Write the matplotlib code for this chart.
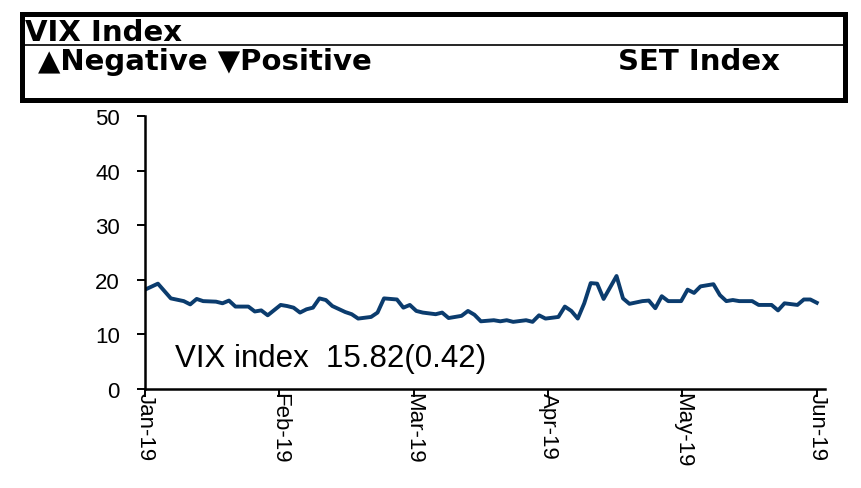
import numpy as np
import matplotlib
matplotlib.use("Agg")
import matplotlib.pyplot as plt
from matplotlib.patches import Rectangle

plt.rcParams['font.family'] = ['Liberation Sans', 'DejaVu Sans']

# trading-day index (0 = start of Jan-19) and VIX close
day_idx = [0, 2, 4, 6, 7, 8, 9, 11, 12, 13, 14, 16, 17, 18, 19,
           21, 22, 23, 24, 25, 26, 27, 28, 29, 31, 32, 33, 35, 36, 37,
           39, 40, 41, 42, 43, 45, 46, 47, 48, 49, 50, 51, 52,
           54, 55, 56, 57, 59, 60, 61, 62, 64, 65, 66, 67, 68, 69, 70,
           71, 73, 74, 75, 77, 78, 79, 80, 81, 83, 84, 85, 86, 88, 89,
           90, 91, 92, 94, 95, 97, 98, 99, 101, 102, 103, 104]
vix = [18.2, 19.3, 16.6, 16.1, 15.5, 16.5, 16.1, 16.0, 15.7, 16.2, 15.1, 15.1, 14.2, 14.4, 13.5,
       15.4, 15.2, 14.9, 14.0, 14.6, 14.9, 16.6, 16.3, 15.2, 14.1, 13.7, 12.9, 13.2, 14.0, 16.6,
       16.4, 14.9, 15.4, 14.3, 14.0, 13.7, 14.0, 13.0, 13.2, 13.4, 14.3, 13.6, 12.4,
       12.6, 12.4, 12.6, 12.3, 12.6, 12.3, 13.5, 12.9, 13.2, 15.1, 14.3, 12.9, 15.7, 19.4, 19.3,
       16.5, 20.7, 16.6, 15.6, 16.1, 16.2, 14.8, 17.0, 16.1, 16.1, 18.2, 17.6, 18.8, 19.2, 17.2,
       16.1, 16.3, 16.1, 16.1, 15.4, 15.4, 14.4, 15.7, 15.4, 16.4, 16.4, 15.8]

month_labels = ['Jan-19', 'Feb-19', 'Mar-19', 'Apr-19', 'May-19', 'Jun-19']
y_ticks = [0, 10, 20, 30, 40, 50]
last_value = 15.82
last_change = 0.42

fig = plt.figure(figsize=(8.61, 4.89), dpi=100)
ax = fig.add_axes([0.1684, 0.2025, 0.790, 0.558])

ax.plot(day_idx, vix, color='#0B3C6E', lw=2.8, solid_joinstyle='round')

ax.set_ylim(0, 50)
ax.set_yticks(y_ticks)
ax.set_xlim(0, 105.3)
ax.set_xticks(np.linspace(0, 104, len(month_labels)))
ax.set_xticklabels(month_labels, rotation=270)

for s in ['top', 'right']:
    ax.spines[s].set_visible(False)
for s in ['left', 'bottom']:
    ax.spines[s].set_linewidth(1.8)
ax.tick_params(axis='both', width=1.4, length=6, direction='out', color='black')
ax.tick_params(axis='y', labelsize=16, pad=12)
ax.tick_params(axis='x', labelsize=16, pad=-4)

ax.text(4.6, 5.6, 'VIX index  %.2f(%.2f)' % (last_value, last_change),
        fontsize=22.5, va='center', ha='left')

# header box
W, H = 861.0, 489.0
box = Rectangle((22 / W, 1 - 101 / H), (845 - 22) / W, (101 - 15) / H,
                transform=fig.transFigure, fill=False, ec='black', lw=3.6)
fig.patches.append(box)
fig.add_artist(plt.Line2D([22 / W, 845 / W], [1 - 46 / H, 1 - 46 / H],
                          transform=fig.transFigure, color='black', lw=1.2))
hdr = dict(fontsize=21, fontweight='bold', va='center', family=['DejaVu Sans'])
fig.text(25 / W, 1 - 33 / H, 'VIX Index', **hdr)
fig.text(38 / W, 1 - 62 / H, '\u25B2Negative \u25BCPositive', **hdr)
fig.text(618 / W, 1 - 62 / H, 'SET Index', **hdr)

fig.savefig('out.png', dpi=100)
